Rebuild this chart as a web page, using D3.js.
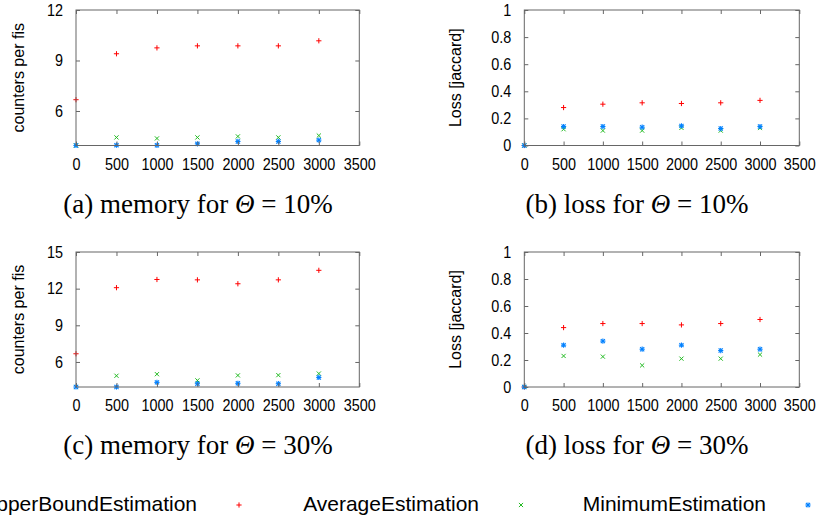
<!DOCTYPE html>
<html>
<head>
<meta charset="utf-8">
<script src="https://cdn.jsdelivr.net/npm/d3@7"></script>
<style>
  body { margin: 0; background: #fff; }
  svg { display: block; }
  .tick text { font-family: "Liberation Sans", Arial, sans-serif; font-size: 16px; fill: #000; }
  .tick line { stroke: #666; }
  .frame { fill: none; stroke: #666; stroke-width: 1; }
  .ylabel { font-family: "Liberation Sans", Arial, sans-serif; font-size: 16px; fill: #000; }
  .caption { font-family: "Liberation Serif", "Times New Roman", serif; font-size: 27px; fill: #000; }
  .legend text { font-family: "Liberation Sans", Arial, sans-serif; font-size: 21px; fill: #000; }
</style>
</head>
<body>
<svg id="chart" width="817" height="521"></svg>
<script>
// x values shared by every panel
const xs = [0, 500, 1000, 1500, 2000, 2500, 3000];
const xTicks = [0, 500, 1000, 1500, 2000, 2500, 3000, 3500];
const seriesNames = ['UpperBoundEstimation', 'AverageEstimation', 'MinimumEstimation'];

// (a) memory, theta = 10%
const memUpper10 = [6.67, 9.4, 9.75, 9.87, 9.87, 9.87, 10.17];
const memAvg10   = [3.95, 4.43, 4.37, 4.43, 4.49, 4.43, 4.54];
const memMin10   = [3.95, 3.97, 3.96, 4.05, 4.19, 4.19, 4.27];
// (b) loss, theta = 10%
const lossUpper10 = [0, 0.28, 0.305, 0.315, 0.31, 0.315, 0.333];
const lossAvg10   = [0, 0.12, 0.11, 0.11, 0.13, 0.11, 0.13];
const lossMin10   = [0, 0.14, 0.14, 0.135, 0.145, 0.125, 0.14];
// (c) memory, theta = 30%
const memUpper30 = [6.67, 12.08, 12.75, 12.72, 12.4, 12.72, 13.5];
const memAvg30   = [3.95, 4.87, 5.0, 4.49, 4.9, 4.92, 5.05];
const memMin30   = [3.95, 3.95, 4.33, 4.22, 4.25, 4.22, 4.73];
// (d) loss, theta = 30%
const lossUpper30 = [0, 0.44, 0.47, 0.47, 0.46, 0.47, 0.5];
const lossAvg30   = [0, 0.23, 0.225, 0.16, 0.21, 0.21, 0.24];
const lossMin30   = [0, 0.31, 0.34, 0.28, 0.31, 0.27, 0.28];

const memTicks10 = [6, 9, 12];
const memTicks30 = [6, 9, 12, 15];
const lossTicks = [0, 0.2, 0.4, 0.6, 0.8, 1];

const colors = ['#ff0000', '#22bb22', '#0080ff'];

const svg = d3.select('#chart');

// gnuplot-like point shapes: +, x, *
function drawMarker(g, type, cx, cy, color) {
  const r = 2.6;
  const segs = [];
  if (type === 0 || type === 2) {
    segs.push([cx - r, cy, cx + r, cy], [cx, cy - r, cx, cy + r]);
  }
  if (type === 1 || type === 2) {
    const d = r * 0.8;
    segs.push([cx - d, cy - d, cx + d, cy + d], [cx - d, cy + d, cx + d, cy - d]);
  }
  segs.forEach(s => {
    g.append('line')
      .attr('x1', s[0]).attr('y1', s[1]).attr('x2', s[2]).attr('y2', s[3])
      .attr('stroke', color)
      .attr('stroke-width', type === 2 ? 1.1 : 1);
  });
}

function drawPanel(p) {
  const g = svg.append('g');
  const x = d3.scaleLinear().domain([0, 3500]).range([p.left, p.right]);
  const y = d3.scaleLinear().domain(p.yDomain).range([p.bottom, p.top]);

  // points first, frame drawn over them
  const pts = g.append('g');
  p.series.forEach((vals, si) => {
    vals.forEach((v, i) => drawMarker(pts, si, x(xs[i]), y(v), colors[si]));
  });

  g.append('g')
    .attr('transform', 'translate(0,' + p.bottom + ')')
    .call(d3.axisBottom(x).tickValues(xTicks).tickSizeInner(-4).tickSizeOuter(0).tickPadding(13)
      .tickFormat(d3.format('d')))
    .call(a => a.select('.domain').remove())
    .call(a => a.selectAll('text').attr('transform', 'scale(0.9,1)'));
  g.append('g')
    .attr('transform', 'translate(0,' + p.top + ')')
    .call(d3.axisTop(x).tickValues(xTicks).tickSizeInner(-4).tickSizeOuter(0).tickFormat(''))
    .call(a => a.select('.domain').remove());
  g.append('g')
    .attr('transform', 'translate(' + p.left + ',0)')
    .call(d3.axisLeft(y).tickValues(p.yTicks).tickSizeInner(-4).tickSizeOuter(0).tickPadding(13)
      .tickFormat(d3.format('~g')))
    .call(a => a.select('.domain').remove())
    .call(a => a.selectAll('text').attr('x', -13 / 0.9).attr('transform', 'scale(0.9,1)'));
  g.append('g')
    .attr('transform', 'translate(' + p.right + ',0)')
    .call(d3.axisRight(y).tickValues(p.yTicks).tickSizeInner(-4).tickSizeOuter(0).tickFormat(''))
    .call(a => a.select('.domain').remove());

  g.append('rect')
    .attr('class', 'frame')
    .attr('x', p.left).attr('y', p.top)
    .attr('width', p.right - p.left).attr('height', p.bottom - p.top);

  g.append('text')
    .attr('class', 'ylabel')
    .attr('transform', 'translate(' + p.labelX + ',' + ((p.top + p.bottom) / 2) + ') rotate(-90)')
    .attr('text-anchor', 'middle')
    .text(p.yLabel);

  const cap = g.append('text')
    .attr('class', 'caption')
    .attr('x', p.capX).attr('y', p.capY)
    .attr('text-anchor', 'middle');
  cap.append('tspan').text(p.caption[0] + ' ');
  cap.append('tspan').style('font-style', 'italic').text('\u0398');
  cap.append('tspan').text(' = ' + p.caption[1]);
}

drawPanel({left: 76, right: 359.3, top: 10, bottom: 145.5, yDomain: [3.95, 12], yTicks: memTicks10,
  series: [memUpper10, memAvg10, memMin10], yLabel: 'counters per fis', labelX: 24,
  caption: ['(a) memory for', '10%'], capX: 198, capY: 213});
drawPanel({left: 524.3, right: 799.3, top: 10, bottom: 145.5, yDomain: [0, 1], yTicks: lossTicks,
  series: [lossUpper10, lossAvg10, lossMin10], yLabel: 'Loss [jaccard]', labelX: 461,
  caption: ['(b) loss for', '10%'], capX: 637, capY: 213});
drawPanel({left: 76, right: 359.3, top: 252, bottom: 387, yDomain: [3.95, 15], yTicks: memTicks30,
  series: [memUpper30, memAvg30, memMin30], yLabel: 'counters per fis', labelX: 24,
  caption: ['(c) memory for', '30%'], capX: 198, capY: 454});
drawPanel({left: 524.3, right: 799.3, top: 252, bottom: 387, yDomain: [0, 1], yTicks: lossTicks,
  series: [lossUpper30, lossAvg30, lossMin30], yLabel: 'Loss [jaccard]', labelX: 461,
  caption: ['(d) loss for', '30%'], capX: 637, capY: 454});

// legend row (text right-aligned, sample marker to the right)
const legend = svg.append('g').attr('class', 'legend');
const legendTextEnd = [197, 479, 766];
seriesNames.forEach((name, i) => {
  legend.append('text')
    .attr('x', legendTextEnd[i]).attr('y', 511)
    .attr('text-anchor', 'end')
    .text(name);
  drawMarker(legend, i, legendTextEnd[i] + 42, 505, colors[i]);
});
</script>
</body>
</html>
